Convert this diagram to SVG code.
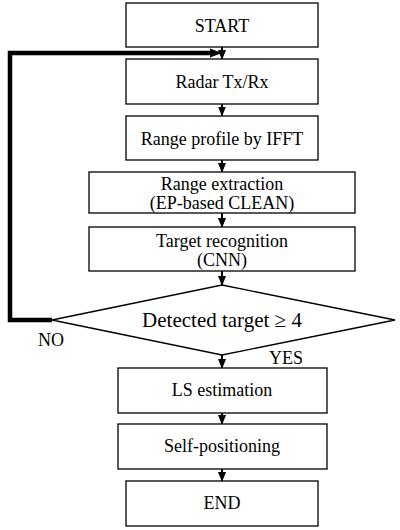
<svg xmlns="http://www.w3.org/2000/svg" width="400" height="530" viewBox="0 0 400 530">
<style>
.box{fill:#fff;stroke:#000;stroke-width:1.3}
.t{font-family:"Liberation Serif","Times New Roman",serif;font-size:18px;fill:#000;text-anchor:middle}
.c{stroke:#000;stroke-width:2;fill:none}
.fb{stroke:#000;stroke-width:4.5;fill:none}
</style>
<defs>
<marker id="ah" markerWidth="10" markerHeight="8" refX="9" refY="4" orient="auto" markerUnits="userSpaceOnUse">
<path d="M0,0 L10,4 L0,8 Z" fill="#000"/>
</marker>
</defs>
<rect width="400" height="530" fill="#fff"/>
<g id="connectors">
<line class="c" x1="222" y1="47" x2="222" y2="59" marker-end="url(#ah)"/>
<line class="c" x1="222" y1="104" x2="222" y2="115.5" marker-end="url(#ah)"/>
<line class="c" x1="222" y1="160" x2="222" y2="172" marker-end="url(#ah)"/>
<line class="c" x1="222" y1="213" x2="222" y2="227" marker-end="url(#ah)"/>
<line class="c" x1="222" y1="271" x2="222" y2="285" marker-end="url(#ah)"/>
<line class="c" x1="222" y1="355" x2="222" y2="368" marker-end="url(#ah)"/>
<line class="c" x1="222" y1="413" x2="222" y2="424" marker-end="url(#ah)"/>
<line class="c" x1="222" y1="469" x2="222" y2="481" marker-end="url(#ah)"/>
<path class="fb" d="M52,320 L10,320 L10,53 L212,53"/>
<path d="M210,48.5 L222,53 L210,57.5 Z" fill="#000"/>
<text class="t" x="51" y="346">NO</text>
<text class="t" x="286" y="364">YES</text>
</g>
<g id="start">
<rect class="box" x="126" y="3" width="192" height="44"/>
<text class="t" x="222" y="32">START</text>
</g>
<g id="radar">
<rect class="box" x="126" y="59" width="192" height="45"/>
<text class="t" x="222" y="88">Radar Tx/Rx</text>
</g>
<g id="profile">
<rect class="box" x="126" y="116" width="192" height="44"/>
<text class="t" x="222" y="145">Range profile by IFFT</text>
</g>
<g id="extraction">
<rect class="box" x="89" y="172" width="266" height="41"/>
<text class="t" x="222" y="190">Range extraction</text>
<text class="t" x="222" y="209">(EP-based CLEAN)</text>
</g>
<g id="recognition">
<rect class="box" x="89" y="227" width="266" height="44"/>
<text class="t" x="222" y="247">Target recognition</text>
<text class="t" x="222" y="266">(CNN)</text>
</g>
<g id="decision">
<polygon class="box" points="222,285 395,320 222,355 52,320"/>
<text class="t" x="222" y="327" style="font-size:21px">Detected target ≥ 4</text>
</g>
<g id="ls">
<rect class="box" x="118" y="368" width="209" height="45"/>
<text class="t" x="222" y="396">LS estimation</text>
</g>
<g id="self">
<rect class="box" x="118" y="424" width="209" height="45"/>
<text class="t" x="222" y="452">Self-positioning</text>
</g>
<g id="end">
<rect class="box" x="126" y="481" width="192" height="45"/>
<text class="t" x="222" y="509">END</text>
</g>
</svg>
